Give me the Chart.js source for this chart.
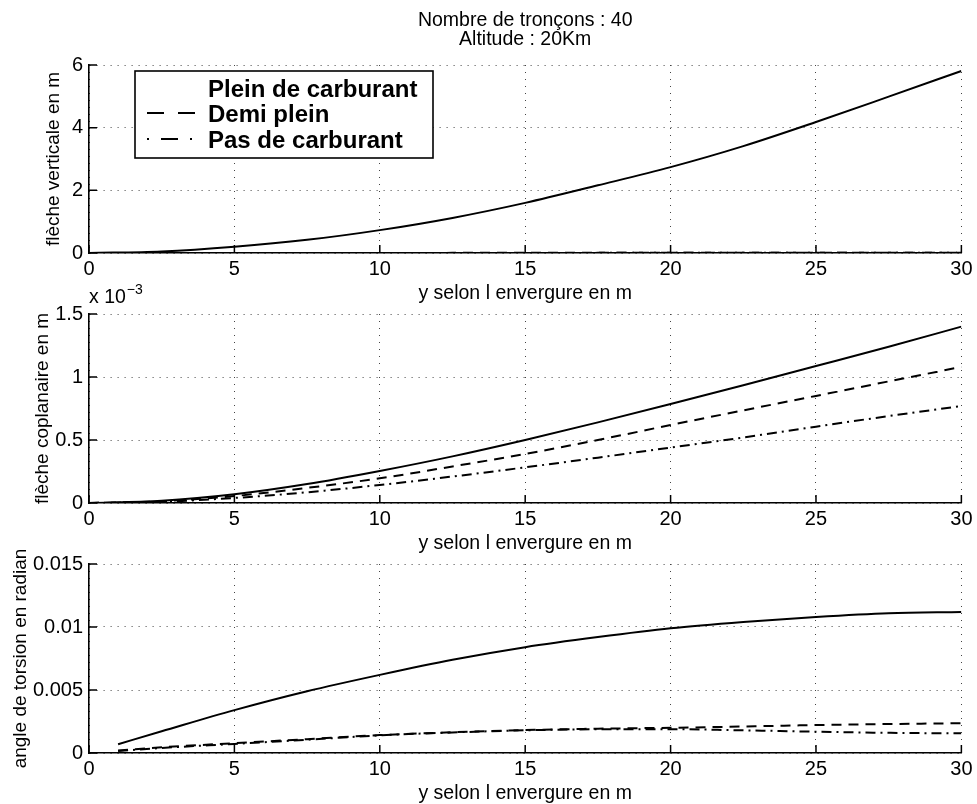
<!DOCTYPE html>
<html><head><meta charset="utf-8">
<script src="https://cdn.jsdelivr.net/npm/chart.js@4"></script>
<style>
html,body{margin:0;padding:0;background:#fff;overflow:hidden;}
#wrap{position:relative;width:977px;height:804px;overflow:hidden;background:#fff;}
#wrap canvas{position:absolute;left:0;}
</style>
</head><body>
<div id="wrap">
<canvas id="cA" width="977" height="310" style="top:0px"></canvas>
<canvas id="cB" width="977" height="280" style="top:280px"></canvas>
<canvas id="cC" width="977" height="280" style="top:530px"></canvas>
</div>
<script>
// ---- texts ----
const titleLines = ['Nombre de tronçons : 40', 'Altitude : 20Km'];
const seriesLabels = ['Plein de carburant', 'Demi plein', 'Pas de carburant'];
const xAxisTitle = 'y selon l envergure en m';
const yTitleTop = 'flèche verticale en m';
const yTitleMid = 'flèche coplanaire en m';
const yTitleBot = 'angle de torsion en radian';
const midMultiplier = ['x 10', '\u22123'];

// ---- ticks ----
const xTicks = [0, 5, 10, 15, 20, 25, 30];
const yTicksTop = [0, 2, 4, 6];
const yTicksMid = [0, 0.5e-3, 1.0e-3, 1.5e-3];
const yTicksBot = [0, 0.005, 0.01, 0.015];

// ---- data: flèche verticale (m) ----
const xTop = [0, 2.5, 5, 7.5, 10, 12.5, 15, 17.5, 20, 22.5, 25, 27.5, 30];
const topPlein = [0, 0.05, 0.2, 0.42, 0.73, 1.12, 1.6, 2.16, 2.74, 3.41, 4.18, 4.99, 5.81];
const topDemi  = [0, 0.0005, 0.001, 0.002, 0.003, 0.004, 0.005, 0.006, 0.007, 0.008, 0.009, 0.010, 0.011];
const topPas   = [0, 0.0003, 0.0007, 0.0012, 0.0018, 0.0025, 0.0032, 0.004, 0.0048, 0.0056, 0.0064, 0.0072, 0.008];

// ---- data: flèche coplanaire (m) ----
const xMid = [0, 2.5, 5, 7.5, 10, 12.5, 15, 17.5, 20, 22.5, 25, 27.5, 30];
const midPlein = [0, 0.018e-3, 0.069e-3, 0.15e-3, 0.254e-3, 0.37e-3, 0.5e-3, 0.64e-3, 0.786e-3, 0.935e-3, 1.087e-3, 1.24e-3, 1.40e-3];
const midDemi  = [0, 0.014e-3, 0.055e-3, 0.12e-3, 0.196e-3, 0.29e-3, 0.389e-3, 0.50e-3, 0.619e-3, 0.735e-3, 0.85e-3, 0.965e-3, 1.08e-3];
const midPas   = [0, 0.010e-3, 0.040e-3, 0.085e-3, 0.143e-3, 0.21e-3, 0.283e-3, 0.36e-3, 0.44e-3, 0.52e-3, 0.606e-3, 0.69e-3, 0.77e-3];

// ---- data: angle de torsion (rad) ----
const xBot = [1, 2.5, 5, 7.5, 10, 12.5, 15, 17.5, 20, 22.5, 25, 27.5, 30];
const botPlein = [0.0007, 0.00172, 0.0034, 0.0049, 0.0062, 0.0074, 0.0084, 0.0092, 0.0099, 0.0104, 0.0108, 0.0111, 0.0112];
const botDemi  = [0.0002, 0.00045, 0.00078, 0.0011, 0.00142, 0.00165, 0.00182, 0.00193, 0.002, 0.0021, 0.00222, 0.0023, 0.00236];
const botPas   = [0.00015, 0.0004, 0.00072, 0.00105, 0.0014, 0.00163, 0.0018, 0.00188, 0.00189, 0.0018, 0.00169, 0.0016, 0.00156];

// ---- styles ----
const FONT = "'Liberation Sans', Arial, Helvetica, sans-serif";
const seriesDash = [[], [10, 7], [10, 5, 2, 5]];

function mkDatasets(xs, arrays) {
  return arrays.map((arr, i) => ({
    label: seriesLabels[i],
    data: xs.map((x, k) => ({x: x, y: arr[k]})),
    borderColor: '#000',
    borderWidth: 2,
    borderDash: seriesDash[i],
    pointRadius: 0,
    fill: false,
    cubicInterpolationMode: 'monotone'
  }));
}

const inwardTicks = {
  id: 'inwardTicks',
  afterDatasetsDraw(chart) {
    const {ctx, chartArea: a, scales: {x, y}} = chart;
    ctx.save();
    ctx.strokeStyle = '#000';
    ctx.lineWidth = 1.5;
    ctx.beginPath();
    x.ticks.forEach(t => { const p = x.getPixelForValue(t.value); ctx.moveTo(p, a.bottom); ctx.lineTo(p, a.bottom - 8); });
    y.ticks.forEach(t => { const p = y.getPixelForValue(t.value); ctx.moveTo(a.left, p); ctx.lineTo(a.left + 8, p); });
    ctx.stroke();
    ctx.restore();
  }
};

const titlePlugin = {
  id: 'figTitle',
  afterDraw(chart) {
    const {ctx, chartArea: a} = chart;
    ctx.save();
    ctx.fillStyle = '#000';
    ctx.font = '19.5px ' + FONT;
    ctx.textAlign = 'center';
    ctx.textBaseline = 'middle';
    const cx = (a.left + a.right) / 2;
    ctx.fillText(titleLines[0], cx, 21);
    ctx.fillText(titleLines[1], cx, 40);
    ctx.restore();
  }
};

const legendPlugin = {
  id: 'boxLegend',
  afterDraw(chart) {
    const {ctx} = chart;
    ctx.save();
    ctx.fillStyle = '#fff';
    ctx.fillRect(135, 71, 298, 87);
    ctx.strokeStyle = '#000';
    ctx.lineWidth = 1.6;
    ctx.strokeRect(135, 71, 298, 87);
    const baselines = [97, 122, 148];
    chart.data.datasets.forEach((ds, i) => {
      ctx.font = 'bold 24px ' + FONT;
      ctx.fillStyle = '#000';
      ctx.textAlign = 'left';
      ctx.textBaseline = 'alphabetic';
      ctx.fillText(ds.label, 208, baselines[i]);
      if (ds.borderDash && ds.borderDash.length) {
        ctx.beginPath();
        ctx.setLineDash(i === 1 ? [17, 14] : [2, 12, 17, 12]);
        ctx.lineWidth = 2.2;
        ctx.moveTo(147, baselines[i] - 9);
        ctx.lineTo(198, baselines[i] - 9);
        ctx.stroke();
        ctx.setLineDash([]);
      }
    });
    ctx.restore();
  }
};

const multiplierPlugin = {
  id: 'multiplier',
  afterDraw(chart) {
    const {ctx, chartArea: a} = chart;
    ctx.save();
    ctx.fillStyle = '#000';
    ctx.textAlign = 'left';
    ctx.textBaseline = 'alphabetic';
    ctx.font = '19.5px ' + FONT;
    ctx.fillText(midMultiplier[0], a.left, a.top - 11);
    const w = ctx.measureText(midMultiplier[0]).width;
    ctx.font = '14px ' + FONT;
    ctx.fillText(midMultiplier[1], a.left + w + 1, a.top - 20);
    ctx.restore();
  }
};

function makeChart(id, padTop, yTitle, yTitlePad, yTicks, yFmt, xs, arrays, plugins) {
  return new Chart(document.getElementById(id), {
    type: 'line',
    data: {datasets: mkDatasets(xs, arrays)},
    options: {
      responsive: false,
      animation: false,
      devicePixelRatio: 1,
      layout: {padding: {top: padTop, right: 15, bottom: 0, left: 0}},
      plugins: {legend: {display: false}, tooltip: {enabled: false}},
      scales: {
        x: {
          type: 'linear',
          min: xTicks[0], max: xTicks[xTicks.length - 1],
          afterBuildTicks: s => { s.ticks = xTicks.map(v => ({value: v})); },
          afterFit: s => { s.height = 57; },
          ticks: {color: '#000', font: {family: FONT, size: 20}, padding: 4.5, maxRotation: 0,
                  callback: v => String(v)},
          grid: {color: '#444', lineWidth: 1, drawTicks: false},
          border: {display: true, color: '#000', width: 1.6, dash: [1, 6]},
          title: {display: true, text: xAxisTitle, color: '#000', font: {family: FONT, size: 19.5},
                  padding: {top: 0, bottom: 4.3}}
        },
        y: {
          type: 'linear',
          min: yTicks[0], max: yTicks[yTicks.length - 1],
          afterBuildTicks: s => { s.ticks = yTicks.map(v => ({value: v})); },
          afterFit: s => { s.width = 89; },
          ticks: {color: '#000', font: {family: FONT, size: 20}, padding: 6, callback: yFmt},
          grid: {color: '#444', lineWidth: 1, drawTicks: false},
          border: {display: true, color: '#000', width: 1.6, dash: [1, 6]},
          title: {display: true, text: yTitle, color: '#000', font: {family: FONT, size: 19},
                  padding: {top: yTitlePad, bottom: 0}}
        }
      }
    },
    plugins: plugins
  });
}

makeChart('cA', 65, yTitleTop, 42.6, yTicksTop, v => String(+(+v).toFixed(4)),
          xTop, [topPlein, topDemi, topPas], [inwardTicks, titlePlugin, legendPlugin]);
makeChart('cB', 34, yTitleMid, 31.6, yTicksMid, v => String(+(v * 1000).toFixed(4)),
          xMid, [midPlein, midDemi, midPas], [inwardTicks, multiplierPlugin]);
makeChart('cC', 34, yTitleBot, 9.6, yTicksBot, v => String(+(+v).toFixed(6)),
          xBot, [botPlein, botDemi, botPas], [inwardTicks]);
</script>
</body></html>
